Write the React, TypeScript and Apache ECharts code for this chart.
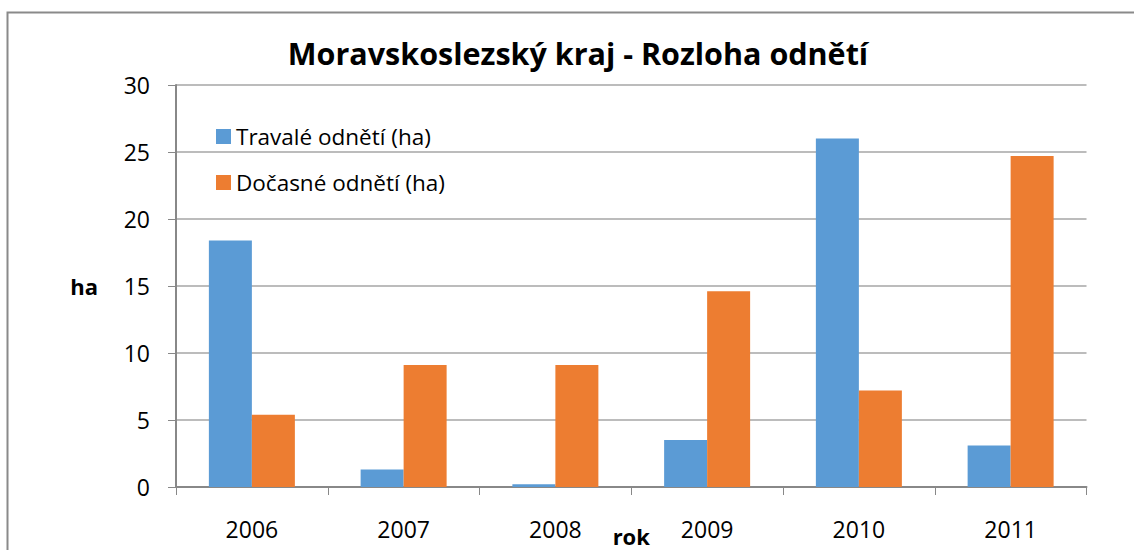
import React, { useEffect, useRef } from "react";
import * as echarts from "echarts";

const years = ["2006", "2007", "2008", "2009", "2010", "2011"];
const travale = [18.4, 1.3, 0.2, 3.5, 26.0, 3.1];
const docasne = [5.4, 9.1, 9.1, 14.6, 7.2, 24.7];
const seriesNames = ["Travalé odnětí (ha)", "Dočasné odnětí (ha)"];
const titleText = "Moravskoslezský kraj - Rozloha odnětí";

const FONT = "'Open Sans', Lato, sans-serif";

export default function App() {
  const ref = useRef<HTMLDivElement>(null);
  useEffect(() => {
    if (!ref.current) return;
    const chart = echarts.init(ref.current, undefined, { renderer: "svg" });
    chart.setOption({
      animation: false,
      backgroundColor: "#ffffff",
      textStyle: { fontFamily: FONT },
      title: {
        text: titleText,
        left: 573,
        top: 32,
        textAlign: "center",
        textStyle: { fontFamily: FONT, fontSize: 30.5, fontWeight: "bold", color: "#000" },
      },
      graphic: [
        {
          type: "rect",
          shape: { x: 7.5, y: 12.5, width: 1200, height: 600 },
          style: { fill: "none", stroke: "#8a8a8a", lineWidth: 2 },
          silent: true,
        },
      ],
      legend: {
        orient: "vertical",
        left: 211,
        top: 120,
        itemWidth: 15,
        itemHeight: 15,
        itemGap: 23,
        icon: "rect",
        textStyle: { fontFamily: FONT, fontSize: 22.5, color: "#000", lineHeight: 22 },
        data: seriesNames,
      },
      grid: { left: 176, right: 47.5, top: 85, bottom: 63, outerBoundsMode: "none", containLabel: false },
      xAxis: {
        type: "category",
        data: years,
        name: "rok",
        nameLocation: "middle",
        nameGap: 38,
        nameMoveOverlap: false,
        nameTextStyle: { fontFamily: FONT, fontSize: 22, fontWeight: "bold", color: "#000", lineHeight: 22 },
        axisLine: { lineStyle: { color: "#888", width: 2 } },
        axisTick: { show: true, length: 8, lineStyle: { color: "#888" } },
        axisLabel: { margin: 30, fontFamily: FONT, fontSize: 23, color: "#000" },
      },
      yAxis: {
        type: "value",
        min: 0,
        max: 30,
        interval: 5,
        name: "ha",
        nameLocation: "middle",
        nameRotate: 0,
        nameGap: 78,
        nameMoveOverlap: false,
        nameTextStyle: { fontFamily: FONT, fontSize: 22, fontWeight: "bold", color: "#000" },
        axisLine: { show: true, lineStyle: { color: "#888", width: 2 } },
        axisTick: { show: true, length: 8, lineStyle: { color: "#888" } },
        axisLabel: { margin: 26, fontFamily: FONT, fontSize: 23, color: "#000" },
        splitLine: { lineStyle: { color: "#a6a6a6", width: 1.5 } },
      },
      series: [
        {
          name: seriesNames[0],
          type: "bar",
          data: travale,
          barWidth: 43,
          barGap: "0%",
          itemStyle: { color: "#5B9BD5" },
        },
        {
          name: seriesNames[1],
          type: "bar",
          data: docasne,
          barWidth: 43,
          barGap: "0%",
          itemStyle: { color: "#ED7D31" },
        },
      ],
    });
    return () => chart.dispose();
  }, []);
  return (
    <div
      ref={ref}
      style={{ position: "fixed", left: 0, top: 0, width: 1134, height: 550 }}
    />
  );
}
